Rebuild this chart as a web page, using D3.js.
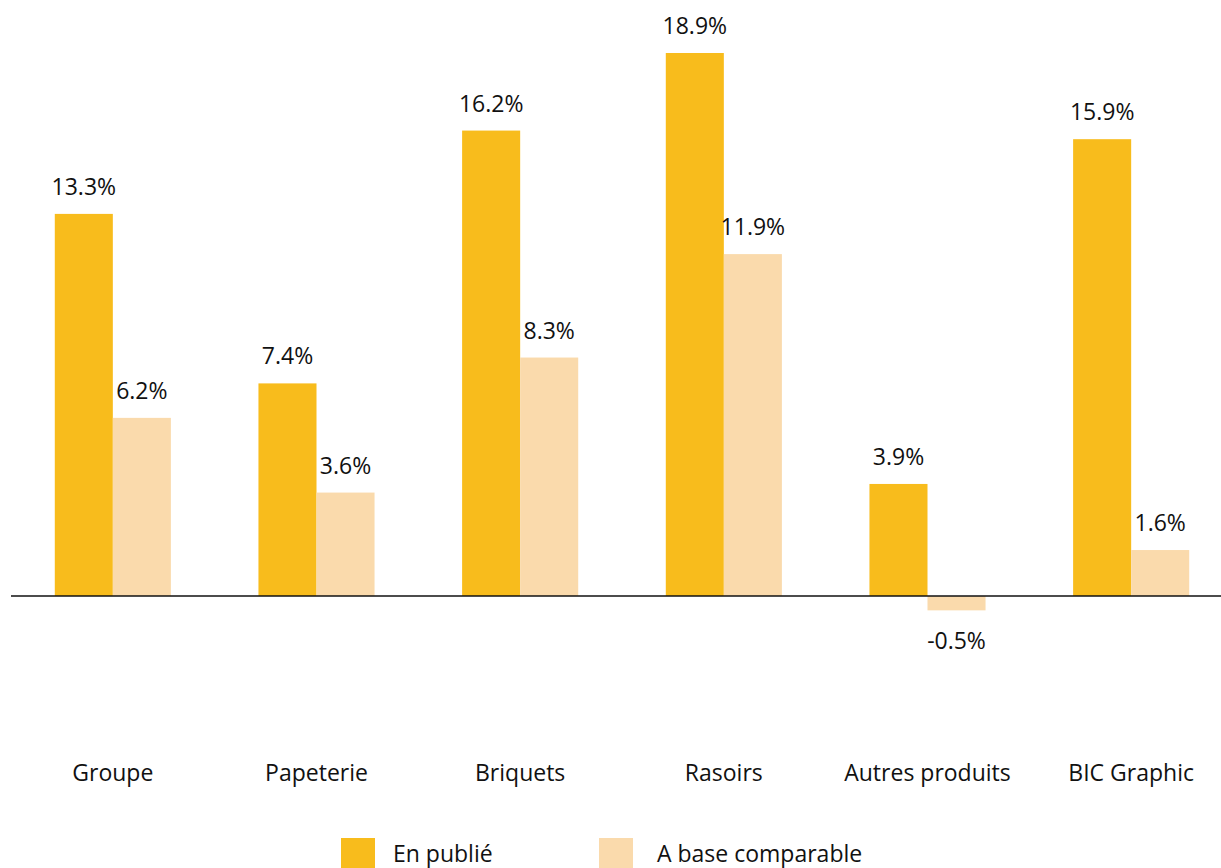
<!DOCTYPE html>
<html>
<head>
<meta charset="utf-8">
<script src="https://cdn.jsdelivr.net/npm/d3@7"></script>
<style>
  body { margin: 0; background: #fff; }
  svg { display: block; font-family: "Open Sans", "Noto Sans", sans-serif; }
</style>
</head>
<body>
<svg id="chart" width="1221" height="868"></svg>
<script>
const categories = ["Groupe", "Papeterie", "Briquets", "Rasoirs", "Autres produits", "BIC Graphic"];
const seriesNames = ["En publié", "A base comparable"];
const publie = [13.3, 7.4, 16.2, 18.9, 3.9, 15.9];
const comparable = [6.2, 3.6, 8.3, 11.9, -0.5, 1.6];
const colours = ["#F8BC1C", "#FADAAC"];

const svg = d3.select("#chart");
const fontSize = 23;

const x = d3.scaleBand()
    .domain(categories)
    .range([11, 1233])
    .paddingInner(0.43)
    .paddingOuter(0.215);

const xSub = d3.scaleBand()
    .domain([0, 1])
    .range([0, x.bandwidth()]);

const y = d3.scaleLinear()
    .domain([0, 18.9])
    .range([596, 53]);

const rows = categories.map((c, i) => ({ cat: c, values: [publie[i], comparable[i]] }));

const groups = svg.selectAll("g.cat")
    .data(rows)
    .join("g")
        .attr("class", "cat")
        .attr("transform", d => `translate(${x(d.cat)},0)`);

groups.selectAll("rect")
    .data(d => d.values.map((v, k) => ({ v, k })))
    .join("rect")
        .attr("x", d => xSub(d.k))
        .attr("width", xSub.bandwidth())
        .attr("y", d => Math.min(y(d.v), y(0)))
        .attr("height", d => Math.abs(y(d.v) - y(0)))
        .attr("fill", d => colours[d.k]);

groups.selectAll("text.val")
    .data(d => d.values.map((v, k) => ({ v, k })))
    .join("text")
        .attr("class", "val")
        .attr("x", d => xSub(d.k) + xSub.bandwidth() / 2)
        .attr("y", d => d.v >= 0 ? y(d.v) - 19 : y(d.v) + 39)
        .attr("text-anchor", "middle")
        .attr("font-size", fontSize)
        .attr("fill", "#111")
        .text(d => d.v.toFixed(1) + "%");

// baseline
svg.append("line")
    .attr("x1", 11).attr("x2", 1221)
    .attr("y1", y(0)).attr("y2", y(0))
    .attr("stroke", "#111")
    .attr("stroke-width", 1.3);

// category labels
svg.selectAll("text.cat-label")
    .data(categories)
    .join("text")
        .attr("class", "cat-label")
        .attr("x", d => x(d) + x.bandwidth() / 2)
        .attr("y", 781)
        .attr("text-anchor", "middle")
        .attr("font-size", fontSize)
        .attr("fill", "#111")
        .text(d => d);

// legend
const legendX = [341, 599];
const legend = svg.selectAll("g.legend")
    .data(seriesNames)
    .join("g")
        .attr("class", "legend")
        .attr("transform", (d, i) => `translate(${legendX[i]},838)`);

legend.append("rect")
    .attr("width", 34)
    .attr("height", 34)
    .attr("fill", (d, i) => colours[i]);

legend.append("text")
    .attr("x", (d, i) => i === 0 ? 52 : 58)
    .attr("y", 24)
    .attr("font-size", fontSize)
    .attr("fill", "#111")
    .text(d => d);
</script>
</body>
</html>
